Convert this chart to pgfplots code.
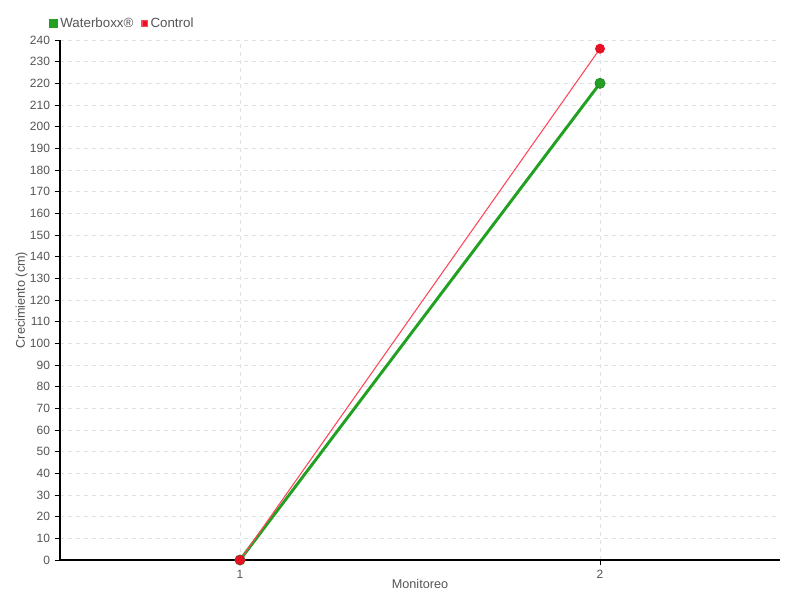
\documentclass[border=0pt]{standalone}
\usepackage{pgfplots}
\pgfplotsset{compat=1.18}
\usepackage{fontspec}
\setmainfont{Liberation Sans}
\definecolor{txt}{RGB}{85,85,85}
\definecolor{grn}{RGB}{34,160,34}
\definecolor{dgrn}{RGB}{40,130,40}
\definecolor{red1}{RGB}{232,16,36}
\definecolor{red2}{RGB}{255,70,90}
\definecolor{gridc}{RGB}{225,225,225}
\begin{document}
\begin{tikzpicture}
\begin{axis}[
  at={(0pt,0pt)}, anchor=south west,
  width=540pt, height=390pt, scale only axis,
  xmin=0.5, xmax=2.5, ymin=0, ymax=240,
  xtick={1,2}, ytick distance=10,
  axis lines=left, axis line style={-, black, line width=0.8pt},
  tick style={black, line width=0.6pt},
  tick align=outside, major tick length=4pt,
  grid=major, major grid style={gridc, dashed, line width=0.6pt},
  tick label style={font=\fontsize{9}{11}\selectfont, text=txt},
  /pgf/number format/assume math mode=true,
  xlabel={Monitoreo}, ylabel={Crecimiento (cm)},
  label style={font=\fontsize{9.5}{11}\selectfont, text=txt},
  xlabel style={yshift=6pt},
  ylabel style={yshift=-5pt},
  legend style={at={(-0.015,1.015)}, anchor=south west, draw=none, fill=none,
    font=\fontsize{10}{12}\selectfont, text=txt, legend columns=2,
    /tikz/every even column/.append style={column sep=4pt},
    inner sep=0pt},
  legend image code/.code={\fill[#1] (0.4pt,-2pt) rectangle (4.4pt,2pt);},
  clip=false,
]
\addplot[grn, line width=2.2pt, mark=*, mark size=3.8pt, mark options={fill=grn, draw=dgrn, line width=0.6pt}] coordinates {(1,0) (2,220)};
\addlegendentry{Waterboxx®}
\addplot[color=red1, draw=red2, line width=0.8pt, mark=*, mark size=3.3pt, mark options={fill=red1, draw=red1}] coordinates {(1,0) (2,236)};
\addlegendentry{Control}
\end{axis}
\useasboundingbox (-45pt,-30pt) rectangle (555pt,420pt);
\end{tikzpicture}
\end{document}
